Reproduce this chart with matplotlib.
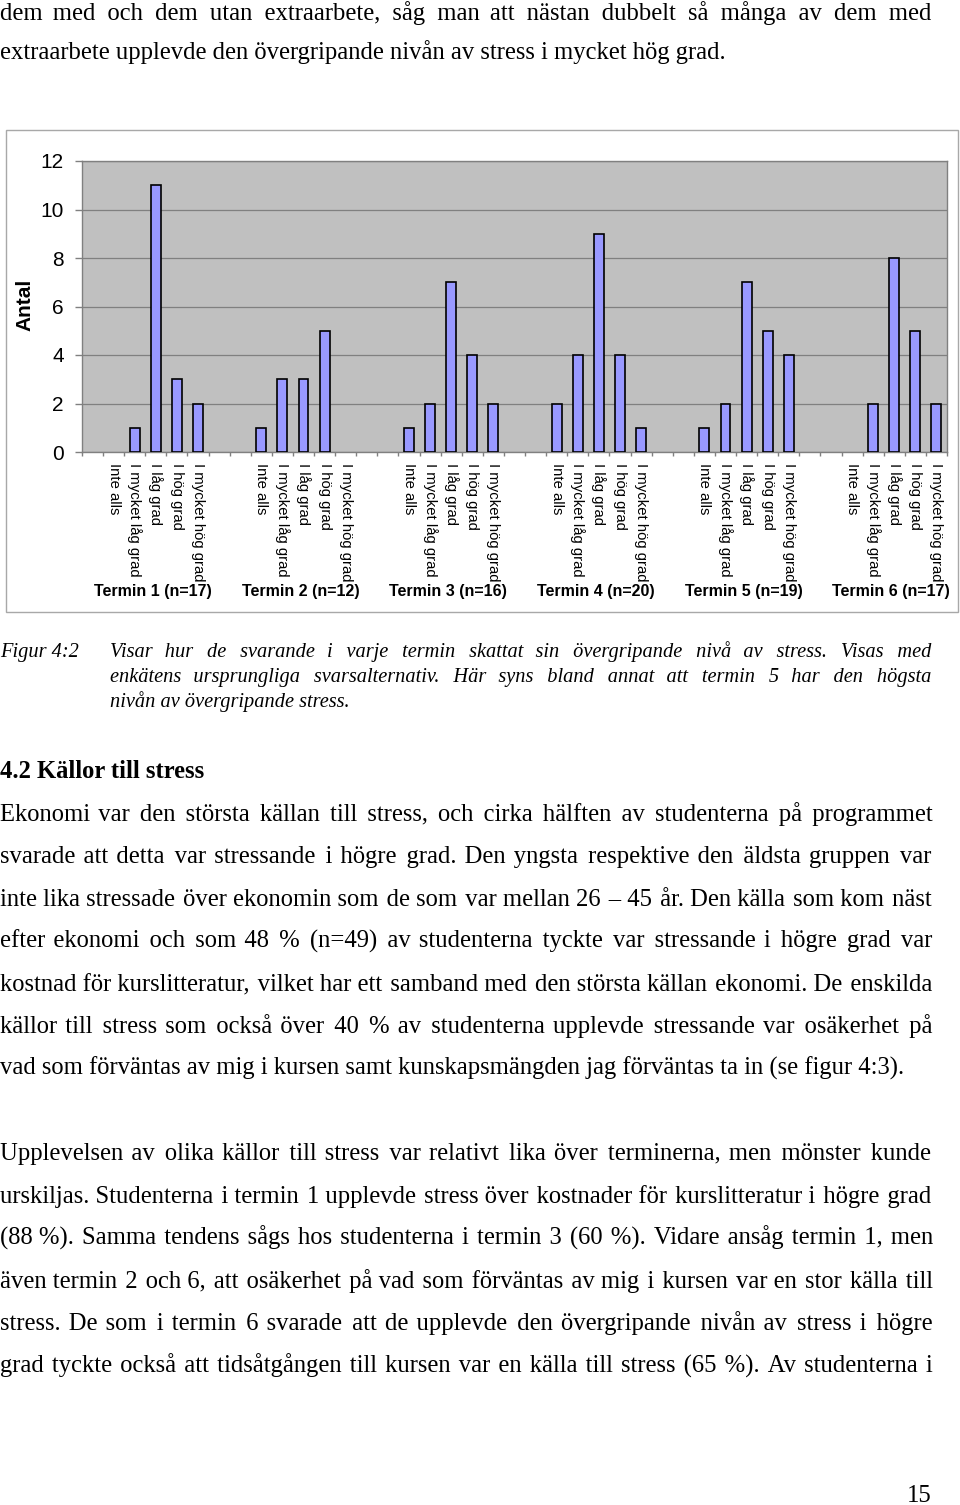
import matplotlib
matplotlib.use("Agg")
import matplotlib.pyplot as plt
from matplotlib.patches import Rectangle
import numpy as np

# ---------------- data ----------------
termins = ["Termin 1 (n=17)", "Termin 2 (n=12)", "Termin 3 (n=16)",
           "Termin 4 (n=20)", "Termin 5 (n=19)", "Termin 6 (n=17)"]
options = ["Inte alls", "I mycket låg grad", "I låg grad", "I hög grad", "I mycket hög grad"]
termin1 = [0, 1, 11, 3, 2]
termin2 = [1, 3, 3, 5, 0]
termin3 = [1, 2, 7, 4, 2]
termin4 = [2, 4, 9, 4, 1]
termin5 = [1, 2, 7, 5, 4]
termin6 = [0, 2, 8, 5, 2]
y_ticks = [0, 2, 4, 6, 8, 10, 12]
y_label = "Antal"

text_top = ["dem med och dem utan extraarbete, såg man att nästan dubbelt så många av dem med",
            "extraarbete upplevde den övergripande nivån av stress i mycket hög grad."]
caption_label = "Figur 4:2"
caption = ["Visar hur de svarande i varje termin skattat sin övergripande nivå av stress. Visas med",
           "enkätens ursprungliga svarsalternativ. Här syns bland annat att termin 5 har den högsta",
           "nivån av övergripande stress."]
heading = "4.2 Källor till stress"
para1 = ["Ekonomi var den största källan till stress, och cirka hälften av studenterna på programmet",
         "svarade att detta var stressande i högre grad. Den yngsta respektive den äldsta gruppen var",
         "inte lika stressade över ekonomin som de som var mellan 26 – 45 år. Den källa som kom näst",
         "efter ekonomi och som 48 % (n=49) av studenterna tyckte var stressande i högre grad var",
         "kostnad för kurslitteratur, vilket har ett samband med den största källan ekonomi. De enskilda",
         "källor till stress som också över 40 % av studenterna upplevde stressande var osäkerhet på",
         "vad som förväntas av mig i kursen samt kunskapsmängden jag förväntas ta in (se figur 4:3)."]
para2 = ["Upplevelsen av olika källor till stress var relativt lika över terminerna, men mönster kunde",
         "urskiljas. Studenterna i termin 1 upplevde stress över kostnader för kurslitteratur i högre grad",
         "(88 %). Samma tendens sågs hos studenterna i termin 3 (60 %). Vidare ansåg termin 1, men",
         "även termin 2 och 6, att osäkerhet på vad som förväntas av mig i kursen var en stor källa till",
         "stress. De som i termin 6 svarade att de upplevde den övergripande nivån av stress i högre",
         "grad tyckte också att tidsåtgången till kursen var en källa till stress (65 %). Av studenterna i"]
page_number = "15"

# ---------------- figure ----------------
W, H = 960, 1505
fig = plt.figure(figsize=(W / 100, H / 100), dpi=100)
fig.patch.set_facecolor("white")
renderer = fig.canvas.get_renderer()

SERIF = ["Liberation Serif", "DejaVu Serif"]
SANS = ["Liberation Sans", "DejaVu Sans"]
HAIR = "\u200a"


def fx(px):
    return px / W


def fy(py):
    return 1 - py / H


def text_width(s, fs, style="normal", weight="normal"):
    t = fig.text(0, 0, s, fontsize=fs, family=SERIF, style=style, weight=weight)
    w = t.get_window_extent(renderer).width
    t.remove()
    return w


def put_line(s, x0, x1, yb, fs, justify=True, style="normal", weight="normal"):
    yb = round(yb)
    if justify:
        words = s.split(" ")
        n_g = len(words) - 1
        base = text_width(s, fs, style, weight)
        if base > x1 - x0:
            fs = fs * (x1 - x0) / base
            base = text_width(s, fs, style, weight)
        h = (text_width("x" + HAIR * 20 + "x", fs, style, weight)
             - text_width("xx", fs, style, weight)) / 20
        total = max(int(round((x1 - x0 - base) / h)), 0)
        parts = [words[0]]
        for i in range(n_g):
            k = total * (i + 1) // n_g - total * i // n_g
            parts.append(" " + HAIR * k + words[i + 1])
        s = "".join(parts)
    fig.text(fx(x0), fy(yb), s, fontsize=fs, family=SERIF, style=style,
             weight=weight, va="baseline", ha="left")


# calibrate font sizes to reference line widths
fs_body = 10 * 905 / text_width(para1[-1], 10)
fs_cap = 10 * 240 / text_width(caption[-1], 10, style="italic")
fs_head = 10 * 205 / text_width(heading, 10, weight="bold")

RIGHT = 932
put_line(text_top[0], 0, RIGHT, 20, fs_body)
put_line(text_top[1], 0, RIGHT, 59, fs_body, justify=False)

fig.text(fx(0), fy(657), caption_label, fontsize=fs_cap, family=SERIF, style="italic",
         va="baseline")
for i, line in enumerate(caption):
    put_line(line, 110, RIGHT, 657 + 25 * i, fs_cap, justify=(i < len(caption) - 1),
             style="italic")

put_line(heading, 0, RIGHT, 778, fs_head, justify=False, weight="bold")

for i, line in enumerate(para1):
    put_line(line, 0, RIGHT, 821 + 42.4 * i, fs_body, justify=(i < len(para1) - 1))
for i, line in enumerate(para2):
    put_line(line, 0, RIGHT, 1160 + 42.6 * i, fs_body, justify=True)

fig.text(fx(RIGHT), fy(1502), page_number, fontsize=fs_body, family=SERIF,
         ha="right", va="baseline")

# ---------------- chart ----------------
frame = Rectangle((fx(6), fy(612)), fx(958) - fx(6), fy(130) - fy(612),
                  transform=fig.transFigure, facecolor="none", edgecolor="#a8a8a8",
                  lw=1.0, zorder=-5)
fig.patches.append(frame)

ax = fig.add_axes([fx(82), fy(452), fx(947) - fx(82), fy(161) - fy(452)])
ax.set_zorder(2)
ax.set_facecolor("#c0c0c0")

series = [termin1, termin2, termin3, termin4, termin5, termin6]
n_slots = 1 + len(termins) * len(options) + (len(termins) - 1) * 2
positions, values, labels = [], [], []
for k, vals in enumerate(series):
    start = 1 + k * (len(options) + 2)
    for j, (opt, v) in enumerate(zip(options, vals)):
        positions.append(start + j)
        values.append(v)
        labels.append(opt)

bars = ax.bar(positions, values, width=0.47, color="#9999ff", edgecolor="black",
              linewidth=1.2, zorder=3)
for b, v in zip(bars, values):
    if v == 0:
        b.set_visible(False)

ax.set_xlim(-0.5, n_slots - 0.5)
ax.set_ylim(0, 12)
ax.set_yticks(y_ticks)
ax.set_yticklabels([str(t) for t in y_ticks], fontsize=15, family=SANS)
ax.yaxis.grid(True, color="#808080", lw=0.9, zorder=1)
ax.set_axisbelow(True)
ax.tick_params(axis="y", length=5, width=1, color="#808080", pad=8)

ax.set_xticks(positions)
ax.set_xticklabels(labels, rotation=270, fontsize=10.7, family=SANS, ha="center", va="top")
ax.tick_params(axis="x", which="major", length=0, pad=8)
ax.set_xticks(np.arange(-0.5, n_slots, 1.0), minor=True)
ax.tick_params(axis="x", which="minor", length=3, width=1, color="#808080")

for sp in ax.spines.values():
    sp.set_color("#808080")
    sp.set_linewidth(1.0)

label_y = (fy(591) - fy(452)) / (fy(161) - fy(452))
for k, name in enumerate(termins):
    center = 1 + k * (len(options) + 2) + (len(options) - 1) / 2 - 0.15
    ax.text(center, label_y, name, transform=ax.get_xaxis_transform(), fontsize=11.5,
            weight="bold", family=SANS, ha="center", va="center")

fig.text(fx(25), fy(305), y_label, rotation=90, fontsize=15, weight="bold",
         family=SANS, ha="center", va="center")

fig.savefig("out.png", dpi=100, facecolor="white")
